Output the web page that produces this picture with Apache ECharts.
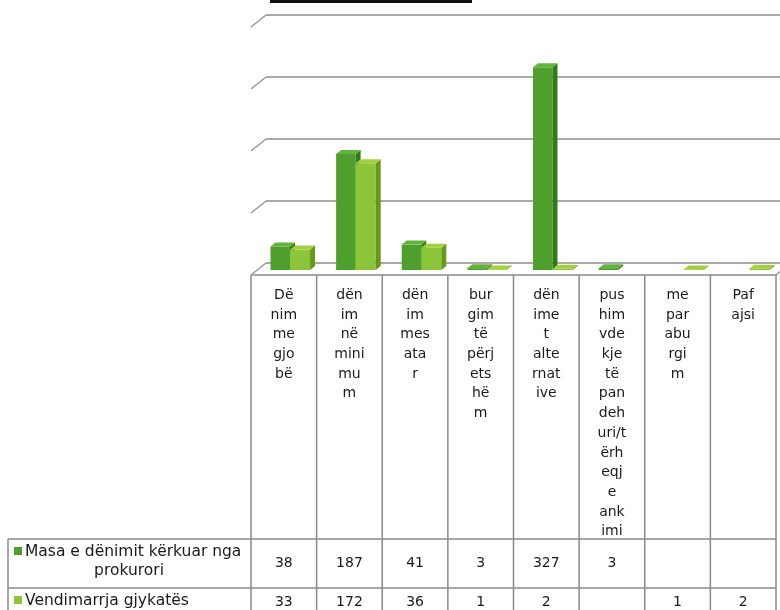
<!DOCTYPE html>
<html><head><meta charset="utf-8">
<script src="https://cdn.jsdelivr.net/npm/echarts@6/dist/echarts.min.js"></script>
<style>html,body{margin:0;padding:0;background:#fff}#c{width:780px;height:610px}</style>
</head><body><div id="c"></div>
<script>
// ---- data ----
const categoryLines = [
  ["Dë","nim","me","gjo","bë"],
  ["dën","im","në","mini","mu","m"],
  ["dën","im","mes","ata","r"],
  ["bur","gim","të","përj","ets","hë","m"],
  ["dën","ime","t","alte","rnat","ive"],
  ["pus","him","vde","kje","të","pan","deh","uri/t","ërh","eqj","e","ank","imi"],
  ["me","par","abu","rgi","m"],
  ["Paf","ajsi"]
];
const categories = categoryLines.map(l => l.join(''));
const seriesNames = ["Masa e dënimit kërkuar nga prokurori", "Vendimarrja gjykatës"];
const seriesLabelLines = [["Masa e dënimit kërkuar nga", "prokurori"], ["Vendimarrja gjykatës"]];
const prokurori = [38, 187, 41, 3, 327, 3, null, null];
const gjykata = [33, 172, 36, 1, 2, null, 1, 2];
const yTicks = [0, 100, 200, 300, 400];

// ---- styles ----
const palettes = [
  {front: '#4f9f2f', side: '#2f7a1b', top: '#62b53b', key: '#4f9f2f'},
  {front: '#8cc43a', side: '#66981c', top: '#a3cf3e', key: '#8cc43a'}
];
const barFr = [0.297, 0.594, 0.9];
const DX = 5, DY = 4, SHIFT = 5;
const FONT_HEAD = '14px "DejaVu Sans", sans-serif';
const FONT_VAL = '14px "DejaVu Sans", sans-serif';
const FONT_LEG = '15.5px "DejaVu Sans", sans-serif';
const BORDER = '#8a8a8a';

const chart = echarts.init(document.getElementById('c'), null, {renderer: 'canvas'});

function barSeries(s, values) {
  const pal = palettes[s];
  const data = [];
  values.forEach((v, i) => { if (v !== null) data.push([i, v]); });
  return {
    type: 'custom', name: seriesNames[s], xAxisIndex: 0, yAxisIndex: 0, data: data,
    renderItem: function (params, api) {
      const i = api.value(0), v = api.value(1);
      const base = api.coord([i, 0]);
      const top = api.coord([i, v]);
      const bw = api.size([1, 0])[0];
      const left = base[0] - bw / 2;
      const x0 = left + bw * barFr[s], x1 = left + bw * barFr[s + 1];
      const yb = base[1] - SHIFT, yt = top[1] - SHIFT;
      return {type: 'group', children: [
        {type: 'polygon', shape: {points: [[x0, yb], [x1, yb], [x1, yt], [x0, yt]]}, style: {fill: pal.front}},
        {type: 'polygon', shape: {points: [[x1, yb], [x1 + DX, yb - DY], [x1 + DX, yt - DY], [x1, yt]]}, style: {fill: pal.side}},
        {type: 'polygon', shape: {points: [[x0, yt], [x1, yt], [x1 + DX, yt - DY], [x0 + DX, yt - DY]]}, style: {fill: pal.top}}
      ]};
    }
  };
}

const wallSeries = {
  type: 'custom', xAxisIndex: 0, yAxisIndex: 0, silent: true, z: 1,
  data: yTicks.map(v => [0, v]),
  renderItem: function (params, api) {
    const v = api.value(1);
    const p = api.coord([0, v]);
    const cs = params.coordSys;
    const kids = [{type: 'line', shape: {x1: cs.x, y1: p[1], x2: cs.x + 15, y2: p[1] - 12},
      style: {stroke: '#9a9a9a', lineWidth: 1.6}}];
    if (v === 0) {
      kids.push({type: 'line', shape: {x1: cs.x + cs.width, y1: p[1], x2: cs.x + cs.width + 15, y2: p[1] - 12},
        style: {stroke: '#9a9a9a', lineWidth: 1.6}});
    }
    return {type: 'group', children: kids};
  }
};

// ---- table (graphic) ----
const tableLeft = 251, tableRight = 776, tableTop = 275, row1 = 539, row2 = 588, legendLeft = 8, bottom = 612;
const colW = (tableRight - tableLeft) / categories.length;
const g = [];
g.push({type: 'rect', left: 270, top: 0, shape: {width: 202, height: 3}, style: {fill: '#111'}, silent: true});
function hline(x1, x2, y) { g.push({type: 'line', shape: {x1: x1, y1: y, x2: x2, y2: y}, style: {stroke: BORDER, lineWidth: 1.5}, silent: true}); }
function vline(x, y1, y2) { g.push({type: 'line', shape: {x1: x, y1: y1, x2: x, y2: y2}, style: {stroke: BORDER, lineWidth: 1.5}, silent: true}); }
hline(tableLeft, tableRight, tableTop);
hline(legendLeft, tableRight, row1);
hline(legendLeft, tableRight, row2);
vline(legendLeft, row1, bottom);
for (let k = 0; k <= categories.length; k++) vline(tableLeft + k * colW, tableTop, bottom);
categoryLines.forEach((lines, i) => {
  const cx = tableLeft + colW * (i + 0.5);
  g.push({type: 'text', x: cx, y: 285.5, silent: true,
    style: {text: lines.join('\n'), font: FONT_HEAD, fill: '#1a1a1a', align: 'center', verticalAlign: 'top', lineHeight: 19.7}});
  [[prokurori, 563], [gjykata, 602]].forEach(([arr, y]) => {
    if (arr[i] !== null) g.push({type: 'text', x: cx, y: y, silent: true,
      style: {text: String(arr[i]), font: FONT_VAL, fill: '#1a1a1a', align: 'center', verticalAlign: 'middle'}});
  });
});
// legend keys in table
g.push({type: 'rect', left: 14, top: 547, shape: {width: 8, height: 8}, style: {fill: palettes[0].key}, silent: true});
g.push({type: 'text', x: 25, y: 551.5, silent: true, style: {text: seriesLabelLines[0][0], font: FONT_LEG, fill: '#1a1a1a', align: 'left', verticalAlign: 'middle'}});
g.push({type: 'text', x: 129, y: 571, silent: true, style: {text: seriesLabelLines[0][1], font: FONT_LEG, fill: '#1a1a1a', align: 'center', verticalAlign: 'middle'}});
g.push({type: 'rect', left: 14, top: 596, shape: {width: 8, height: 8}, style: {fill: palettes[1].key}, silent: true});
g.push({type: 'text', x: 25, y: 600.5, silent: true, style: {text: seriesLabelLines[1][0], font: FONT_LEG, fill: '#1a1a1a', align: 'left', verticalAlign: 'middle'}});

chart.setOption({
  animation: false,
  backgroundColor: '#fff',
  grid: [
    {left: 251, right: 4, top: 27, bottom: 335},
    {left: 266, right: 0, top: 15, bottom: 347}
  ],
  xAxis: [
    {type: 'category', gridIndex: 0, data: categories, show: false},
    {type: 'category', gridIndex: 1, data: categories, show: false}
  ],
  yAxis: [
    {type: 'value', gridIndex: 0, min: 0, max: 400, interval: 100, show: false},
    {type: 'value', gridIndex: 1, min: 0, max: 400, interval: 100,
      axisLabel: {show: false}, axisLine: {show: false}, axisTick: {show: false},
      splitLine: {show: true, lineStyle: {color: '#8e8e8e', width: 1.6}}}
  ],
  series: [wallSeries, barSeries(0, prokurori), barSeries(1, gjykata)],
  graphic: g
});
</script>
</body></html>
